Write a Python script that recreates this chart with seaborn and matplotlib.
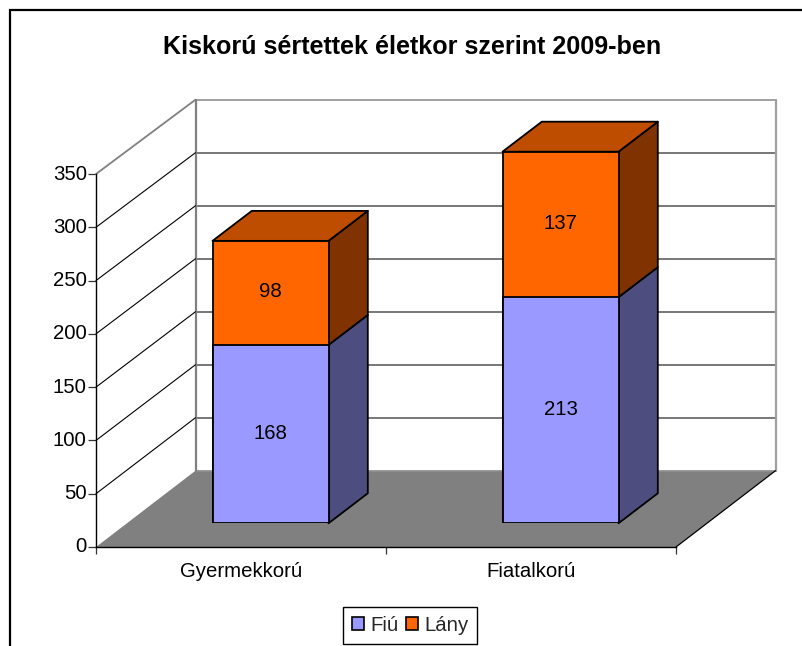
import matplotlib
matplotlib.use("Agg")
import matplotlib.pyplot as plt
from matplotlib.lines import Line2D
from matplotlib.patches import Polygon, Rectangle
from matplotlib.transforms import ScaledTranslation
import seaborn as sns

categories = ["Gyermekkorú", "Fiatalkorú"]
fiu = [168, 213]
lany = [98, 137]
series_names = ["Fiú", "Lány"]
title = "Kiskorú sértettek életkor szerint 2009-ben"
yticks = [0, 50, 100, 150, 200, 250, 300, 350]

W, H = 802, 646
BLUE, ORANGE = "#9999FF", "#FF6600"
BLUE_SIDE, ORANGE_SIDE, ORANGE_TOP = "#4D4D80", "#803300", "#BF4D00"

sns.set_theme(style="white")
plt.rcParams["font.family"] = ["Liberation Sans", "DejaVu Sans"]
FS = 14.7

fig = plt.figure(figsize=(W / 100, H / 100), dpi=100, facecolor="white")
fr = lambda l, t, w, h: [l / W, 1 - (t + h) / H, w / W, h / H]

# outer chart frame: only the left and top edges fall inside the picture
fig.add_artist(Line2D([10 / W, 10 / W, 1], [0, 1 - 9.5 / H, 1 - 9.5 / H],
                      transform=fig.transFigure, color="black", lw=1.6,
                      solid_joinstyle="miter"))

# front plane axes
X0, Y0, AW, AH = 96, 547, 580, 373
ax = fig.add_axes(fr(X0, Y0 - AH, AW, AH))
ax.patch.set_visible(False)
ax.set_xlim(-0.5, 1.5)
ax.set_ylim(0, 350)
ux, uy = AW / 2, AH / 350          # px per data unit
wx = 99.5 / ux                     # wall depth
rear = lambda v: 76.3 / uy + v * 371 / AH   # height of a value on the back wall

# floor and walls
ax.add_patch(Polygon([(-.5, 0), (1.5, 0), (1.5 + wx, rear(0)), (-.5 + wx, rear(0))],
                     fc="#808080", ec="none", clip_on=False, zorder=1))
ax.plot([1.5, 1.5 + wx], [0, rear(0)], color="black", lw=0.9, clip_on=False, zorder=1.5)
for v in yticks:
    top = v == yticks[-1]
    if v > 0:
        ax.plot([-.5, -.5 + wx], [v, rear(v)], color="#808080" if top else "black",
                lw=1.3 if top else 0.8, clip_on=False, zorder=1.5)
    ax.plot([-.5 + wx, 1.5 + wx], [rear(v), rear(v)],
            color="#909090" if (top or v == 0) else "#606060",
            lw=1.2, clip_on=False, zorder=1.2)
ax.plot([-.5 + wx] * 2, [rear(0), rear(350)], color="#808080", lw=1.6, clip_on=False, zorder=1.3)
ax.plot([1.5 + wx] * 2, [rear(0), rear(350)], color="#A0A0A0", lw=1.6, clip_on=False, zorder=1.3)

sns.despine(ax=ax, top=True, right=True)
for s in ("left", "bottom"):
    ax.spines[s].set_color("black")
    ax.spines[s].set_linewidth(1.0)
ax.set_yticks(yticks)
ax.set_xticks([-0.5, 0.5, 1.5])
ax.set_xticklabels([])
ax.set_xticks([0, 1], labels=categories, minor=True)
ax.tick_params(axis="y", which="major", left=True, length=5.5, width=0.9, color="#333333",
               labelsize=FS, labelcolor="black", pad=1.2)
ax.tick_params(axis="x", which="major", bottom=True, length=5, width=0.9, color="#333333")
ax.tick_params(axis="x", which="minor", bottom=False, length=0, labelsize=FS,
               labelcolor="black", pad=11)
up = ScaledTranslation(0, 2 / 100, fig.dpi_scale_trans)
for lab in ax.get_yticklabels():
    lab.set_transform(lab.get_transform() + up)

# bars: front plane shifted into the floor
BAR_H = 371.6
ax2 = fig.add_axes(fr(X0 + 29.5, Y0 - 23.7 - BAR_H, AW, BAR_H), zorder=3)
ax2.patch.set_visible(False)
total = [a + b for a, b in zip(fiu, lany)]
sns.barplot(x=categories, y=total, ax=ax2, color=ORANGE, saturation=1, width=0.4,
            edgecolor="black", linewidth=1.3, zorder=4)
n_top = len(ax2.patches)
sns.barplot(x=categories, y=fiu, ax=ax2, color=BLUE, saturation=1, width=0.4,
            edgecolor="black", linewidth=1.3, zorder=4)
ax2.set_xlim(-0.5, 1.5)
ax2.set_ylim(0, 350)
ax2.axis("off")
dx, dy = 39.3 / ux, 30 / (BAR_H / 350)   # bar depth
shift = ax2.transData + ScaledTranslation(0, 1 / 100, fig.dpi_scale_trans)
for i, p in enumerate(ax2.patches[:n_top]):
    l, r = p.get_x(), p.get_x() + p.get_width()
    f, t = fiu[i], total[i]
    kw = dict(ec="black", lw=1.3, clip_on=False, zorder=3, joinstyle="round")
    ax2.add_patch(Polygon([(r, 0), (r + dx, dy), (r + dx, f + dy), (r, f)], fc=BLUE_SIDE, **kw))
    ax2.add_patch(Polygon([(r, f), (r + dx, f + dy), (r + dx, t + dy), (r, t)], fc=ORANGE_SIDE, **kw))
    ax2.add_patch(Polygon([(l, t), (r, t), (r + dx, t + dy), (l + dx, t + dy)], fc=ORANGE_TOP, **kw))
    c = (l + r) / 2
    ax2.text(c, f / 2, str(f), ha="center", va="center", fontsize=FS, color="black",
             zorder=6, transform=shift)
    ax2.text(c, f + lany[i] / 2, str(lany[i]), ha="center", va="center", fontsize=FS,
             color="black", zorder=6, transform=shift)

fig.text(412 / W, 1 - 47 / H, title, ha="center", va="center", fontsize=18.05,
         fontweight="bold", color="black")

handles = [Rectangle((0, 0), 1, 1, fc=c, ec="black", lw=1.2) for c in (BLUE, ORANGE)]
leg = fig.legend(handles, series_names, loc="center", bbox_to_anchor=(410 / W, 1 - 625.5 / H),
                 ncol=2, fontsize=FS, frameon=True, fancybox=False, edgecolor="black",
                 framealpha=1, handlelength=0.6, handleheight=0.6, handletextpad=0.3,
                 columnspacing=0.35, borderpad=0.42, borderaxespad=0)
leg.get_frame().set_linewidth(1.0)
fig.savefig("out.png", dpi=100)
